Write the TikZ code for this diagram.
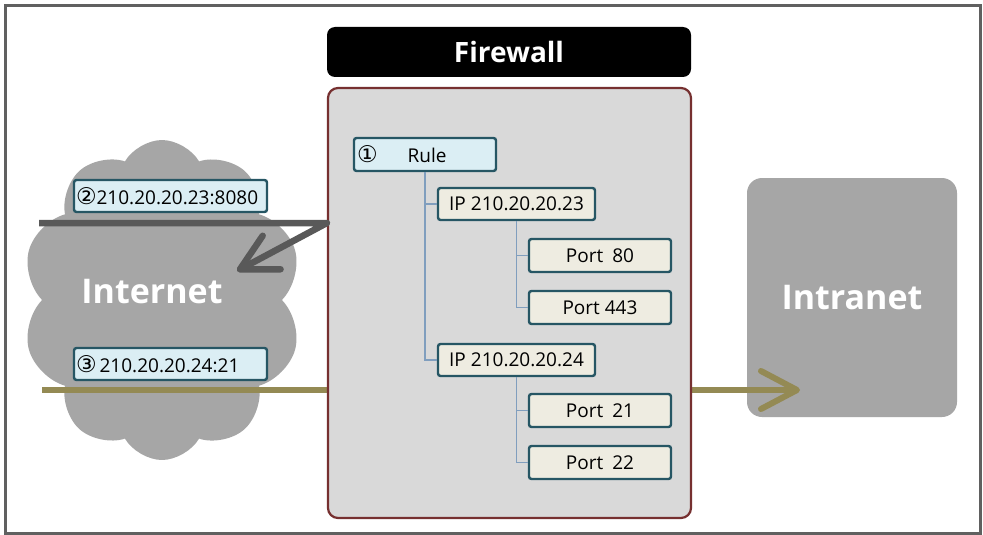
\documentclass[tikz,border=0pt]{standalone}
\usepackage{fontspec}
\setmainfont{Open Sans}
\newfontfamily\sym{DejaVu Sans}
\newcommand{\circnum}[1]{{\sym\fontsize{23}{23}\selectfont #1}}
\usetikzlibrary{shapes.symbols,arrows.meta}
\definecolor{framegray}{RGB}{96,96,96}
\definecolor{cloudgray}{RGB}{166,166,166}
\definecolor{fwfill}{RGB}{217,217,217}
\definecolor{fwborder}{RGB}{118,48,48}
\definecolor{boxedge}{RGB}{38,86,100}
\definecolor{lblue}{RGB}{219,238,244}
\definecolor{beige}{RGB}{238,236,225}
\definecolor{treeline}{RGB}{128,158,190}
\definecolor{olivec}{RGB}{148,138,84}
\definecolor{darkline}{RGB}{89,89,89}
\begin{document}
\begin{tikzpicture}[x=1pt,y=-1pt,
 box/.style={draw=boxedge, line width=2.4pt, rounded corners=2.5pt, inner sep=0pt, font=\fontsize{19}{21}\selectfont},
 bluebox/.style={box, fill=lblue},
 beigebox/.style={box, fill=beige},
 lblbox/.style={bluebox, minimum width=193pt, minimum height=32pt, text width=189pt, inner xsep=2pt, align=left},
 ipbox/.style={beigebox, minimum width=157pt, minimum height=32pt},
 portbox/.style={beigebox, minimum width=142pt, minimum height=33pt},
 tree/.style={draw=treeline, line width=1.2pt},
 bigtext/.style={text=white, font=\bfseries\fontsize{34}{40}\selectfont},
 barb/.style={-{Straight Barb[length=36pt,width=38pt,round]}}
]
\useasboundingbox (0,0) rectangle (983,535);
\fill[white] (0,0) rectangle (983,535);
\draw[framegray, line width=3pt] (5,6) rectangle (980,533);

% cloud and intranet
\node[cloud, cloud puffs=10, cloud puff arc=120, cloud ignores aspect, fill=cloudgray,
      minimum width=280pt, minimum height=320pt, inner sep=0pt] (cloud) at (162,300) {};
\node[bigtext] (internettxt) at (152,292) {Internet};
\node[fill=cloudgray, rounded corners=15pt, minimum width=210pt, minimum height=239pt,
      inner sep=0pt, bigtext] (intranet) at (852,297.5) {Intranet};

% olive flow (behind firewall)
\coordinate (ostart) at (42,390);
\coordinate (otip) at (800,390);
\draw[olivec, line width=6pt, barb] (ostart) -- (otip);

% firewall
\node[fill=black, rounded corners=8pt, minimum width=364pt, minimum height=50pt, inner sep=0pt,
      text=white, font=\bfseries\fontsize{28}{32}\selectfont] (fwhead) at (509,52) {Firewall};
\node[fill=fwfill, draw=fwborder, line width=2.2pt, rounded corners=10pt,
      minimum width=363pt, minimum height=430pt, inner sep=0pt] (fw) at (509.5,303) {};

% gray flow
\coordinate (gstart) at (39,223);
\coordinate (gtip) at (237,271);
\draw[darkline, line width=6.5pt, line join=round, barb] (gstart) -- (gstart -| fw.west) -- (gtip);

% labels
\node[lblbox] (lbl2) at (170.5,196) {\circnum{②}210.20.20.23:8080};
\node[lblbox] (lbl3) at (170.5,364) {\circnum{③}\hspace{3pt}210.20.20.24:21};

% rule tree
\node[bluebox, minimum width=142pt, minimum height=33pt, text width=136pt, inner xsep=3pt, align=left]
   (rule) at (425,154.5) {\circnum{①}\hspace{30pt}Rule};
\node[ipbox] (ip23) at (516.5,204) {IP\hspace{5pt}210.20.20.23};
\node[ipbox] (ip24) at (516.5,360) {IP\hspace{5pt}210.20.20.24};
\node[portbox] (p80) at (600,255.5) {Port\hspace{9pt}80};
\node[portbox] (p443) at (600,307.5) {Port 443};
\node[portbox] (p21) at (600,410.5) {Port\hspace{9pt}21};
\node[portbox] (p22) at (600,462.5) {Port\hspace{9pt}22};

\draw[tree] (rule.south) |- (ip24.west);
\draw[tree] (rule.south |- ip23.west) -- (ip23.west);
\draw[tree] (ip23.south) |- (p443.west);
\draw[tree] (ip23.south |- p80.west) -- (p80.west);
\draw[tree] (ip24.south) |- (p22.west);
\draw[tree] (ip24.south |- p21.west) -- (p21.west);
\end{tikzpicture}
\end{document}
